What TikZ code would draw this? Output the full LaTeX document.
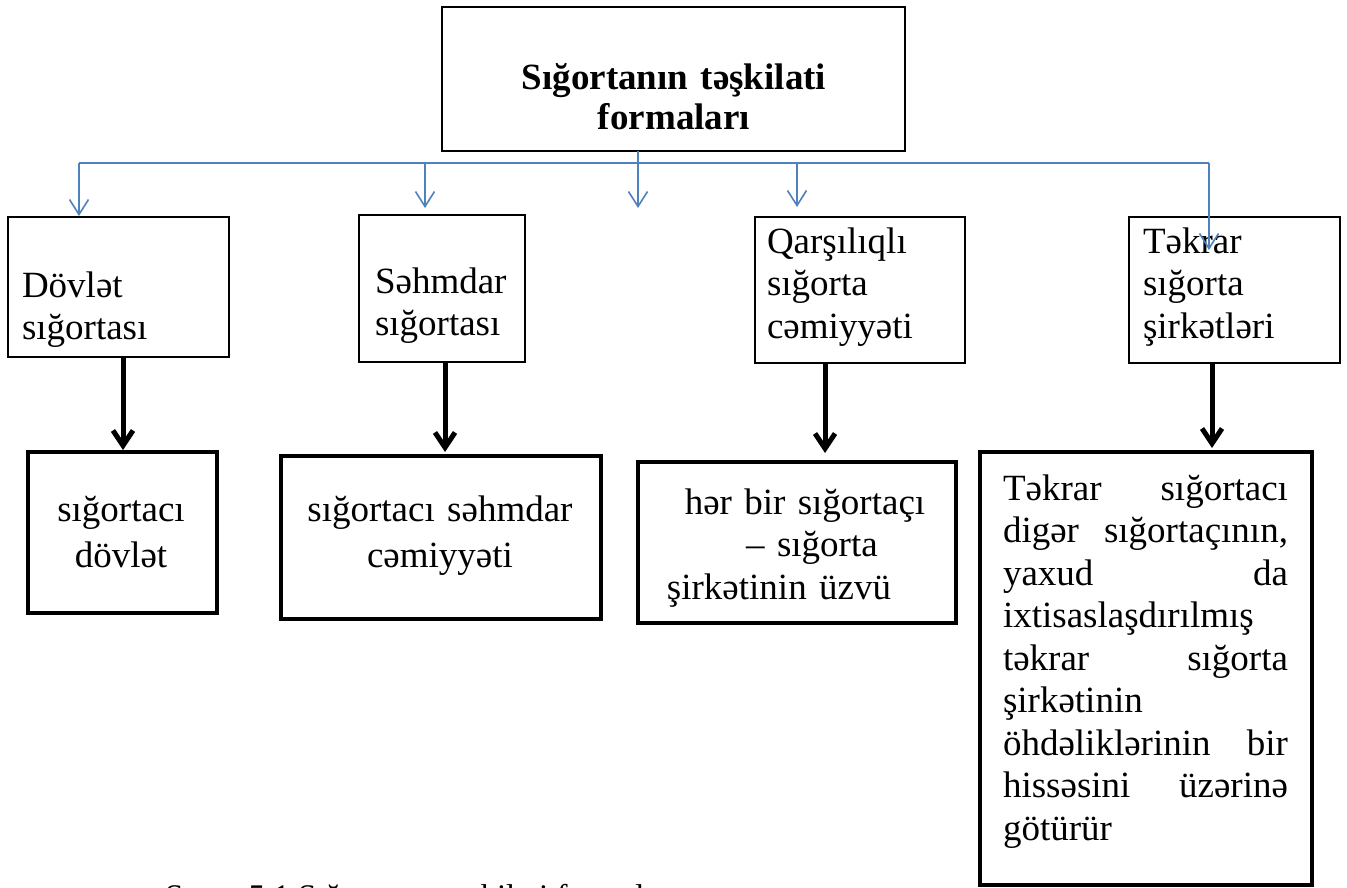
\documentclass[tikz,border=0pt]{standalone}
\usepackage{fontspec}
\setmainfont{Liberation Serif}
\usetikzlibrary{arrows.meta}
\definecolor{busblue}{RGB}{79,129,189}
\tolerance=10000
\hyphenpenalty=10000
\hbadness=10000
\begin{document}
\begin{tikzpicture}[x=1pt,y=-1pt,
  framebox/.style={draw=black, line width=#1, inner sep=0pt, outer sep=0pt, anchor=north west},
  titlebox/.style={framebox=2.3pt},
  formbox/.style={framebox=2.2pt},
  resultbox/.style={framebox=4pt},
  titletext/.style={inner sep=0pt, outer sep=0pt, anchor=north, align=center, text width=440pt,
    font=\bfseries\fontsize{37}{40}\selectfont},
  lefttext/.style={inner sep=0pt, outer sep=0pt, anchor=north west, align=left, text width=#1,
    font=\fontsize{37}{42.5}\selectfont},
  centertext/.style={inner sep=0pt, outer sep=0pt, anchor=north, align=center, text width=#1,
    font=\fontsize{37}{46}\selectfont},
  justtext/.style={inner sep=0pt, outer sep=0pt, anchor=north west, align=justify, text width=#1,
    font=\fontsize{37}{42.5}\selectfont},
  busline/.style={draw=busblue, line width=1.6pt},
  busarrow/.style={busline, -{Straight Barb[length=15pt,width=19pt]}},
  heavyarrow/.style={line width=5pt, -{Straight Barb[length=15pt,width=20pt]}}
]
\useasboundingbox (0,0) rectangle (1347,888);
\clip (0,0) rectangle (1347,888);
\fill[white] (0,0) rectangle (1347,888);

% heading
\node[titlebox, minimum width=463pt, minimum height=144pt] (head) at (442,7) {};
\node[titletext] (headtext) at (674,62) {\strut Sığortanın təşkilati\\formaları};

% forms of insurance
\node[formbox, minimum width=221pt, minimum height=140pt] (f1) at (8,217) {};
\node[formbox, minimum width=166pt, minimum height=147pt] (f2) at (359,215) {};
\node[formbox, minimum width=210pt, minimum height=146pt] (f3) at (755,217) {};
\node[formbox, minimum width=211pt, minimum height=146pt] (f4) at (1129,217) {};

\node[lefttext=200pt] (f1text) at (22,267.25) {\strut Dövlət\\sığortası};
\node[lefttext=150pt] (f2text) at (375,263.25) {\strut Səhmdar\\sığortası};
\node[lefttext=190pt] (f3text) at (767,223.25) {\strut Qarşılıqlı\\sığorta\\cəmiyyəti};
\node[lefttext=190pt] (f4text) at (1143,223.25) {\strut Təkrar\\sığorta\\şirkətləri};

% who the insurer is
\node[resultbox, minimum width=189pt, minimum height=161pt] (r1) at (28,452) {};
\node[resultbox, minimum width=320pt, minimum height=163pt] (r2) at (281,456) {};
\node[resultbox, minimum width=318pt, minimum height=161pt] (r3) at (638,462) {};
\node[resultbox, minimum width=332pt, minimum height=433pt] (r4) at (980,452) {};

\node[centertext=180pt] (r1text) at (121,488.8) {\strut sığortacı\\dövlət};
\node[centertext=300pt] (r2text) at (440,488.8) {\strut sığortacı səhmdar\\cəmiyyəti};
\node[lefttext=300pt, align=center, anchor=north] (r3text) at (779,484.25)
  {\strut\hspace*{52pt}hər bir sığortaçı\\\hspace*{66pt}– sığorta\\şirkətinin üzvü};
\node[justtext=285pt] (r4text) at (1003,470.25)
  {\strut Təkrar sığortacı\linebreak digər sığortaçının,\linebreak yaxud da\linebreak
   ixtisaslaşdırılmış\newline təkrar sığorta\linebreak şirkətinin\newline
   öhdəliklərinin bir\linebreak hissəsini üzərinə\linebreak götürür};

% blue distribution line
\coordinate (busL) at (79,163);
\coordinate (busR) at (1209,163);
\coordinate (j2) at (425,163);
\coordinate (j4) at (797,163);
\coordinate (e1) at (79,216);
\coordinate (e2) at (425,208);
\coordinate (e3) at (638,208);
\coordinate (e4) at (797,207);
\coordinate (e5) at (1209,250);
\draw[busline] (busL) -- (busR);
\draw[busarrow] (busL) -- (e1);
\draw[busarrow] (j2) -- (e2);
\draw[busarrow] (head.south -| e3) -- (e3);
\draw[busarrow] (j4) -- (e4);
\draw[busarrow] (busR) -- (e5);

% heavy arrows down to the insurer boxes
\coordinate (k1) at (123,450);
\coordinate (k2) at (445,452);
\coordinate (k3) at (825,453);
\coordinate (k4) at (1212,448);
\draw[heavyarrow] (f1.south -| k1) -- (k1);
\draw[heavyarrow] (f2.south -| k2) -- (k2);
\draw[heavyarrow] (f3.south -| k3) -- (k3);
\draw[heavyarrow] (f4.south -| k4) -- (k4);

% caption below the chart
\node[anchor=base west, inner sep=0pt, font=\fontsize{33}{40}\selectfont] (caption) at (165,907.5)
  {Sxem 5.1 Sığortanın təşkilati formaları};
\end{tikzpicture}
\end{document}
